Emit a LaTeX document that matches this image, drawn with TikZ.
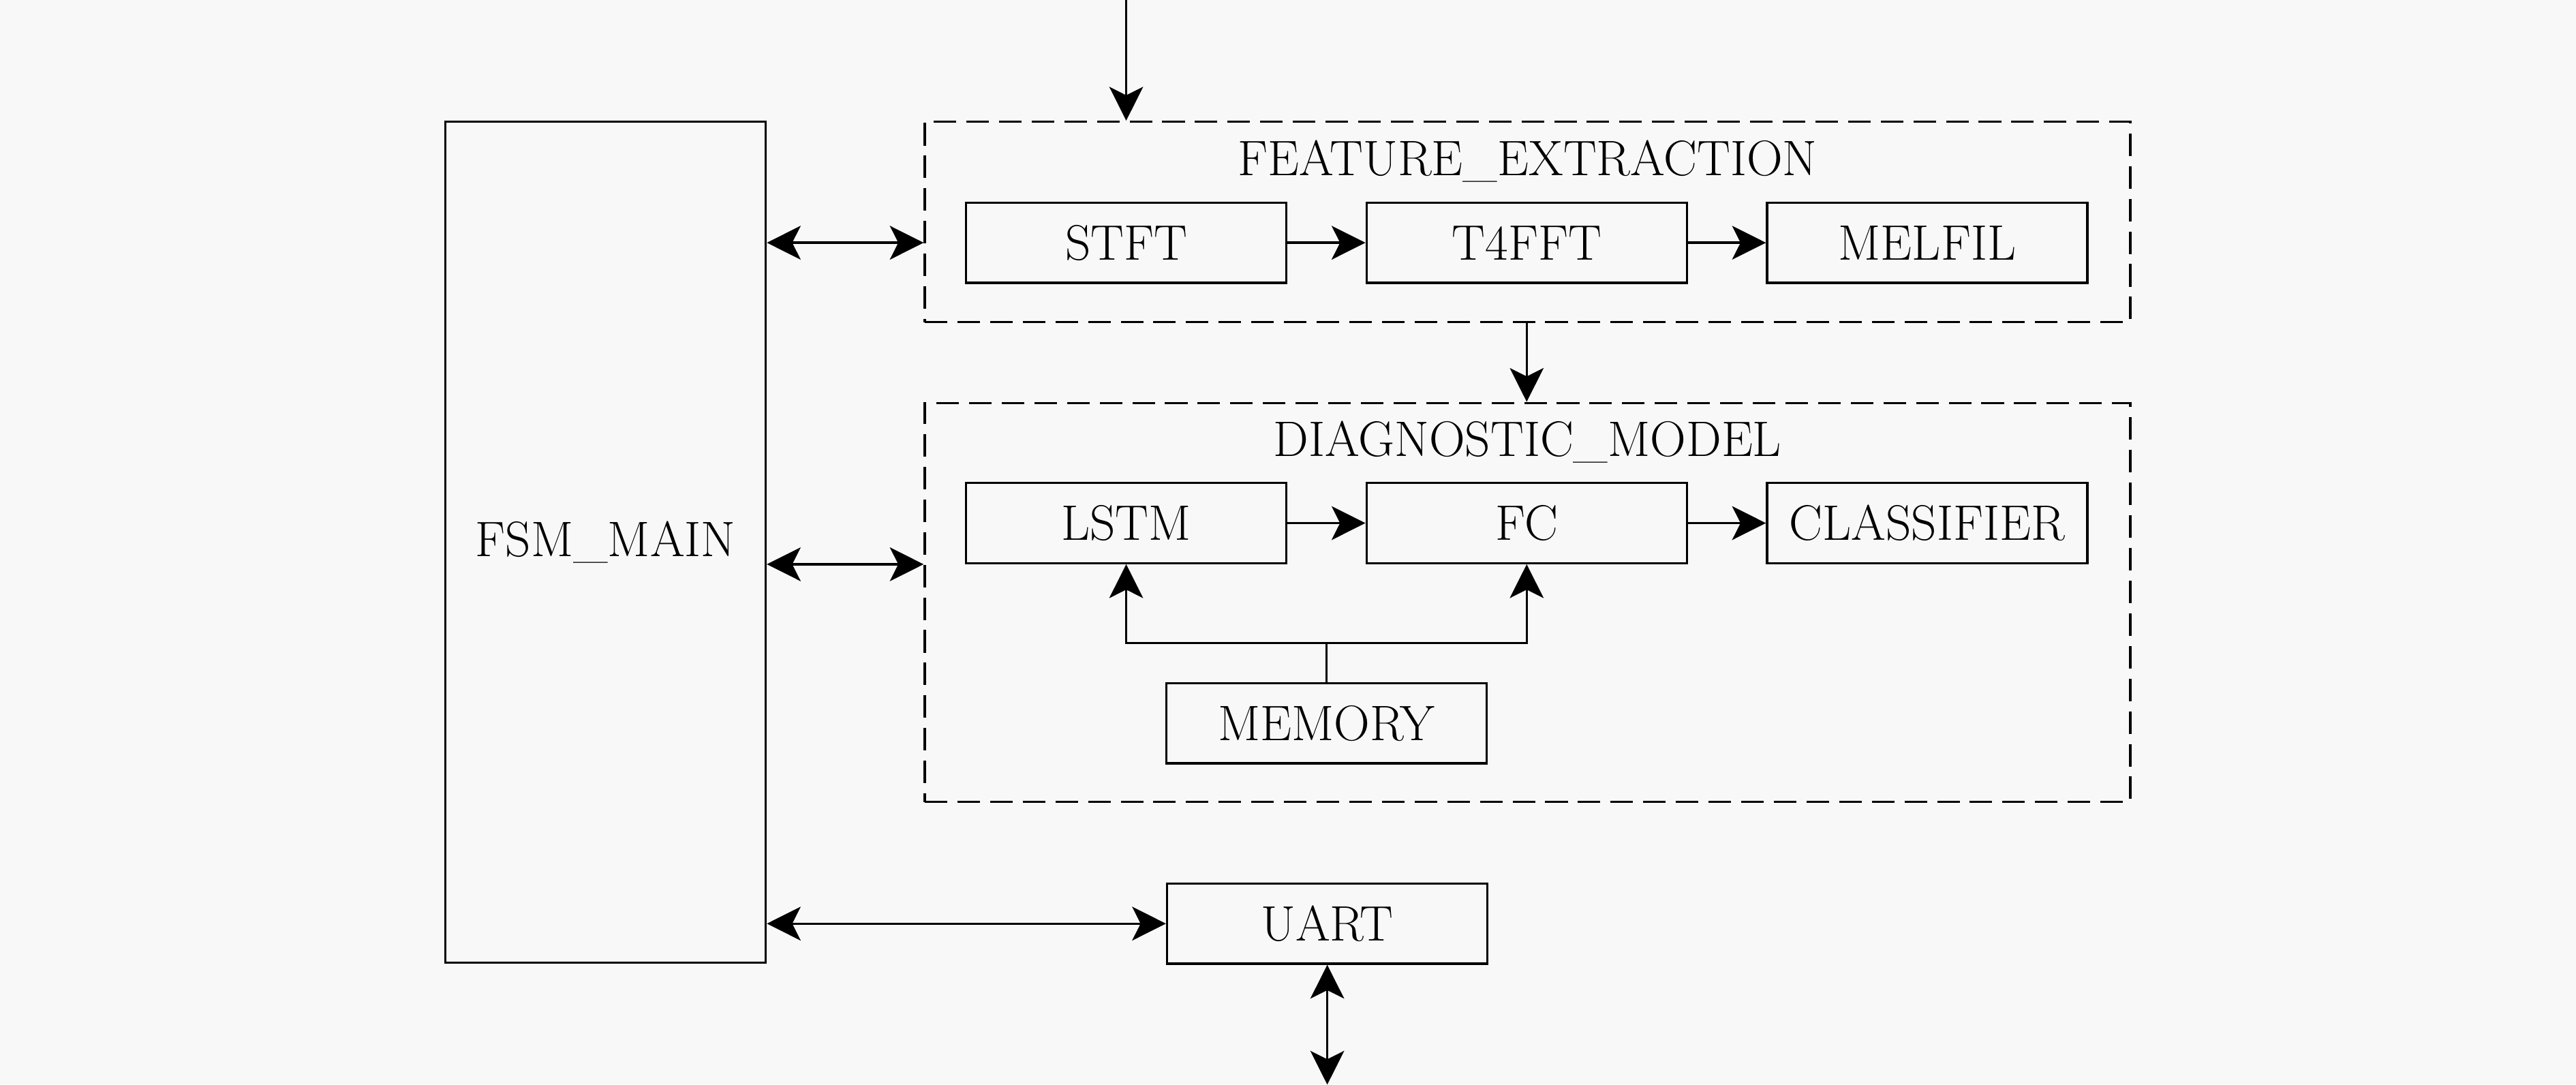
\documentclass[tikz,border=0pt]{standalone}
\usetikzlibrary{arrows.meta,positioning}
\definecolor{bgc}{HTML}{F8F8F8}
\begin{document}
\begin{tikzpicture}[
  font=\fontsize{17.7}{21}\selectfont,
  blk/.style={draw, line width=0.8pt, minimum width=4cm, minimum height=1cm, inner sep=0pt},
  grp/.style={draw, line width=0.8pt, dash pattern=on 8pt off 3.6pt, inner sep=0pt},
  conn/.style={line width=0.8pt, -{Stealth[length=12pt,width=12pt,inset=3pt]}},
  bconn/.style={line width=0.8pt, {Stealth[length=12pt,width=12pt,inset=3pt]}-{Stealth[length=12pt,width=12pt,inset=3pt]}},
  lin/.style={line width=0.8pt}
]
\fill[bgc] (0,0) rectangle (32.16,-13.54);
\useasboundingbox (0,0) rectangle (32.16,-13.54);

% main FSM
\node[blk, minimum height=10.5cm] (fsm) at (7.56,-6.77) {FSM\_MAIN};

% feature extraction group
\node[grp, minimum width=15.05cm, minimum height=2.5cm] (fe) at (19.07,-2.77) {};
\node (fetitle) at (19.07,-2.01) {FEATURE\_EXTRACTION};
\node[blk] (stft) at (14.06,-3.03) {STFT};
\node[blk] (t4fft) at (19.06,-3.03) {T4FFT};
\node[blk] (melfil) at (24.06,-3.03) {MELFIL};

% diagnostic model group
\node[grp, minimum width=15.05cm, minimum height=4.98cm] (dm) at (19.07,-7.52) {};
\node (dmtitle) at (19.07,-5.52) {DIAGNOSTIC\_MODEL};
\node[blk] (lstm) at (14.06,-6.53) {LSTM};
\node[blk] (fc) at (19.06,-6.53) {FC};
\node[blk] (cls) at (24.06,-6.53) {CLASSIFIER};
\node[blk] (mem) at (16.56,-9.03) {MEMORY};

% UART
\node[blk] (uart) at (16.57,-11.53) {UART};

% free ends
\coordinate (topin) at (14.06,0);
\coordinate (botout) at (16.57,-13.54);
\coordinate (split) at (16.56,-8.03);

% connectors
\draw[conn] (topin) -- (topin |- fe.north);
\draw[conn] (stft) -- (t4fft);
\draw[conn] (t4fft) -- (melfil);
\draw[conn] (t4fft.south |- fe.south) -- (t4fft.south |- dm.north);
\draw[conn] (lstm) -- (fc);
\draw[conn] (fc) -- (cls);
\draw[lin] (mem.north) -- (split);
\draw[conn] (split) -| (lstm.south);
\draw[conn] (split) -| (fc.south);

\draw[bconn] (fsm.east |- stft) -- (fe.west |- stft);
\draw[bconn] (fsm.east |- lstm.south) -- (dm.west |- lstm.south);
\draw[bconn] (fsm.east |- uart) -- (uart.west);
\draw[bconn] (uart.south) -- (botout);
\end{tikzpicture}
\end{document}
